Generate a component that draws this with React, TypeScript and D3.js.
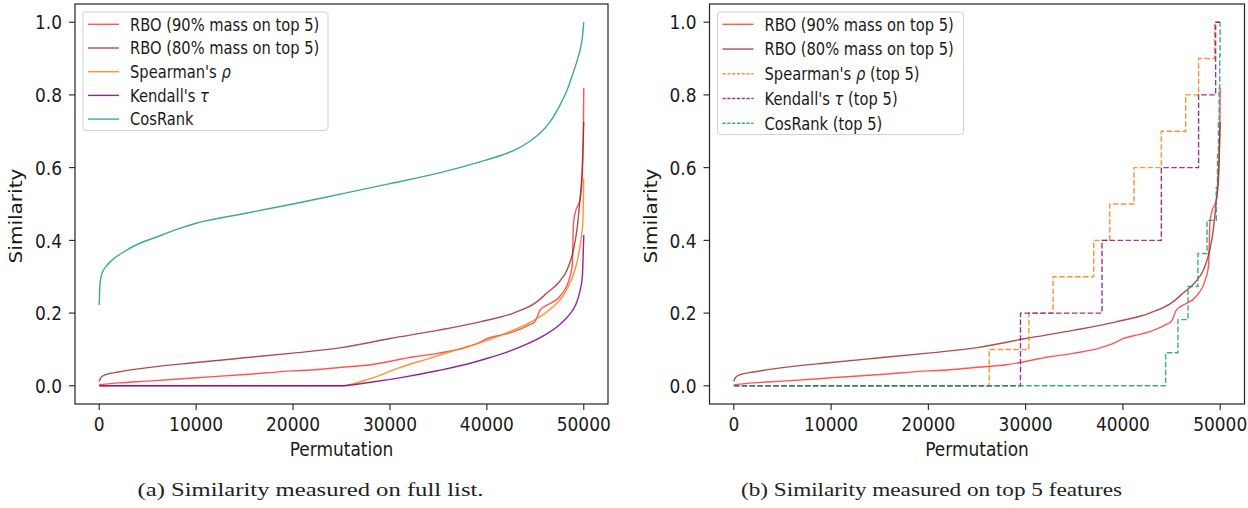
import React, { useRef, useEffect } from "react";
import * as d3 from "d3";

// tick labels
const xTicks = [0, 10000, 20000, 30000, 40000, 50000];
const yTicks = [0, 0.2, 0.4, 0.6, 0.8, 1.0];

// [permutation index, similarity]
const rbo90: [number, number][] = [
  [0, 0.003], [2000, 0.008], [5000, 0.013], [10000, 0.022], [15000, 0.031],
  [20000, 0.041], [22200, 0.044], [25000, 0.051], [28000, 0.058], [32500, 0.08],
  [35000, 0.09], [37500, 0.103], [39300, 0.12], [40000, 0.13], [41000, 0.137],
  [42750, 0.149], [44400, 0.168], [45000, 0.178], [45500, 0.209], [46200, 0.222],
  [47500, 0.245], [48500, 0.294], [48800, 0.33], [48950, 0.45], [49150, 0.48],
  [49600, 0.51], [49800, 0.56], [49950, 0.68], [50000, 0.82],
];

const rbo80: [number, number][] = [
  [0, 0.012], [150, 0.022], [600, 0.03], [2000, 0.038], [5000, 0.05],
  [10000, 0.064], [15000, 0.077], [20000, 0.09], [25000, 0.105], [30000, 0.13],
  [35000, 0.153], [39300, 0.176], [42750, 0.2], [45000, 0.228], [46200, 0.255],
  [47500, 0.287], [48300, 0.32], [48900, 0.37], [49300, 0.43], [49600, 0.51],
  [49850, 0.6], [50000, 0.726],
];

const spearman: [number, number][] = [
  [0, 0], [24900, 0], [28000, 0.02], [31000, 0.05], [34000, 0.075],
  [37000, 0.1], [39500, 0.12], [42000, 0.145], [44500, 0.175], [46500, 0.21],
  [47800, 0.245], [48700, 0.29], [49300, 0.34], [49700, 0.4], [49900, 0.45],
  [50000, 0.57],
];

const kendall: [number, number][] = [
  [0, 0], [24900, 0], [28000, 0.01], [31000, 0.022], [35000, 0.042],
  [38000, 0.06], [40000, 0.075], [42000, 0.092], [44000, 0.113], [46000, 0.14],
  [47500, 0.168], [48500, 0.195], [49200, 0.225], [49600, 0.26], [49850, 0.3],
  [50000, 0.415],
];

const cosRank: [number, number][] = [
  [0, 0.222], [40, 0.26], [120, 0.29], [300, 0.31], [700, 0.328], [1300, 0.345],
  [2500, 0.368], [4000, 0.39], [6000, 0.41], [8000, 0.43], [10000, 0.447],
  [15000, 0.474], [20000, 0.5], [25000, 0.528], [30000, 0.556], [35000, 0.585],
  [39300, 0.616], [41500, 0.634], [43000, 0.65], [44400, 0.672], [45500, 0.695],
  [46500, 0.725], [47500, 0.77], [48300, 0.815], [48870, 0.858], [49300, 0.893],
  [49600, 0.922], [49850, 0.958], [50000, 1.0],
];

// top 5 variants: step values, each point starts a new level
const spearmanTop5: [number, number][] = [
  [0, 0], [26250, 0.1], [30330, 0.2], [32820, 0.3], [37000, 0.4], [38650, 0.5],
  [41140, 0.6], [43950, 0.7], [46450, 0.8], [47780, 0.9], [49420, 1.0], [50000, 1.0],
];

const kendallTop5: [number, number][] = [
  [0, 0], [29470, 0.2], [37850, 0.4], [43950, 0.6], [47780, 0.8], [49530, 1.0],
  [50000, 1.0],
];

const cosRankTop5: [number, number][] = [
  [0, 0], [44390, 0.091], [45660, 0.182], [46690, 0.273], [47710, 0.364],
  [48650, 0.455], [49600, 0.545], [49720, 0.636], [49820, 0.727], [49890, 0.818],
  [49950, 0.909], [49990, 1.0], [50000, 1.0],
];

const COLORS = {
  rbo90: "#ff2a2a",
  rbo80: "#9e2020",
  spearman: "#ff7f0e",
  kendall: "#800080",
  cos: "#1b9e77",
};

const FONT = '"DejaVu Sans", sans-serif';
const TEXT_COLOR = "#1a1a1a";
const STRETCH = 1.18; // figure text looks vertically stretched

type Series = {
  data: [number, number][];
  color: string;
  opacity: number;
  dashed?: boolean;
  step?: boolean;
  name: string;
  sym?: string;
  suffix?: string;
};

const leftSeries: Series[] = [
  { data: rbo90, color: COLORS.rbo90, opacity: 0.8, name: "RBO (90% mass on top 5)" },
  { data: rbo80, color: COLORS.rbo80, opacity: 0.8, name: "RBO (80% mass on top 5)" },
  { data: spearman, color: COLORS.spearman, opacity: 0.85, name: "Spearman's ", sym: "ρ" },
  { data: kendall, color: COLORS.kendall, opacity: 0.85, name: "Kendall's ", sym: "τ" },
  { data: cosRank, color: COLORS.cos, opacity: 0.85, name: "CosRank" },
];

const rightSeries: Series[] = [
  { data: rbo90, color: COLORS.rbo90, opacity: 0.8, name: "RBO (90% mass on top 5)" },
  { data: rbo80, color: COLORS.rbo80, opacity: 0.8, name: "RBO (80% mass on top 5)" },
  { data: spearmanTop5, color: COLORS.spearman, opacity: 0.85, dashed: true, step: true, name: "Spearman's ", sym: "ρ", suffix: " (top 5)" },
  { data: kendallTop5, color: COLORS.kendall, opacity: 0.8, dashed: true, step: true, name: "Kendall's ", sym: "τ", suffix: " (top 5)" },
  { data: cosRankTop5, color: COLORS.cos, opacity: 0.85, dashed: true, step: true, name: "CosRank", suffix: " (top 5)" },
];

const drawPanel = (
  root: d3.Selection<SVGSVGElement, unknown, null, undefined>,
  opts: {
    left: number;
    right: number;
    series: Series[];
    legendWidth: number;
    legendRow: number;
    caption: string;
    captionX: number;
    captionW: number;
  }
) => {
  const top = 4;
  const bottom = 404;

  const x = d3.scaleLinear().domain([-2500, 52500]).range([opts.left, opts.right]);
  const y = d3.scaleLinear().domain([-0.05, 1.05]).range([bottom, top]);

  const g = root.append("g");

  // lines
  opts.series.forEach((s) => {
    const line = d3
      .line<[number, number]>()
      .x((d) => x(d[0]))
      .y((d) => y(d[1]))
      .curve(s.step ? d3.curveStepAfter : d3.curveMonotoneX);
    g.append("path")
      .attr("d", line(s.data))
      .attr("fill", "none")
      .attr("stroke", s.color)
      .attr("stroke-opacity", s.opacity)
      .attr("stroke-width", 1.4)
      .attr("stroke-dasharray", s.dashed ? "5.5,2.4" : null);
  });

  // spines
  g.append("rect")
    .attr("x", opts.left)
    .attr("y", top)
    .attr("width", opts.right - opts.left)
    .attr("height", bottom - top)
    .attr("fill", "none")
    .attr("stroke", "#222")
    .attr("stroke-width", 1.2);

  // y ticks
  yTicks.forEach((t) => {
    g.append("line")
      .attr("x1", opts.left - 6)
      .attr("x2", opts.left)
      .attr("y1", y(t))
      .attr("y2", y(t))
      .attr("stroke", "#222")
      .attr("stroke-width", 1.1);
    g.append("g")
      .attr("transform", `translate(${opts.left - 13},${y(t)}) scale(1,${STRETCH})`)
      .append("text")
      .attr("text-anchor", "end")
      .attr("dy", "0.36em")
      .attr("font-family", FONT)
      .attr("font-size", 17)
      .attr("fill", TEXT_COLOR)
      .text(t.toFixed(1));
  });

  // x ticks
  xTicks.forEach((t) => {
    g.append("line")
      .attr("x1", x(t))
      .attr("x2", x(t))
      .attr("y1", bottom)
      .attr("y2", bottom + 6)
      .attr("stroke", "#222")
      .attr("stroke-width", 1.1);
    g.append("g")
      .attr("transform", `translate(${x(t)},431) scale(1,${STRETCH})`)
      .append("text")
      .attr("text-anchor", "middle")
      .attr("font-family", FONT)
      .attr("font-size", 17)
      .attr("fill", TEXT_COLOR)
      .text(String(t));
  });

  // axis labels
  g.append("g")
    .attr("transform", `translate(${(opts.left + opts.right) / 2},456) scale(1,${STRETCH})`)
    .append("text")
    .attr("text-anchor", "middle")
    .attr("font-family", FONT)
    .attr("font-size", 17)
    .attr("fill", TEXT_COLOR)
    .text("Permutation");

  g.append("g")
    .attr("transform", `translate(${opts.left - 53},216) scale(1,${STRETCH}) rotate(-90)`)
    .append("text")
    .attr("text-anchor", "middle")
    .attr("font-family", FONT)
    .attr("font-size", 17)
    .attr("fill", TEXT_COLOR)
    .text("Similarity");

  // legend
  const lx = opts.left + 8;
  const ly = 12;
  const n = opts.series.length;
  const lh = 12.3 * 2 + (n - 1) * opts.legendRow - 1;
  g.append("rect")
    .attr("x", lx)
    .attr("y", ly)
    .attr("width", opts.legendWidth)
    .attr("height", lh)
    .attr("rx", 3)
    .attr("fill", "#fff")
    .attr("fill-opacity", 0.8)
    .attr("stroke", "#d0d0d0")
    .attr("stroke-width", 1);

  opts.series.forEach((s, i) => {
    const cy = ly + 12.3 + i * opts.legendRow;
    g.append("line")
      .attr("x1", lx + 5)
      .attr("x2", lx + 36)
      .attr("y1", cy)
      .attr("y2", cy)
      .attr("stroke", s.color)
      .attr("stroke-opacity", s.opacity)
      .attr("stroke-width", 1.4)
      .attr("stroke-dasharray", s.dashed ? "3.2,1.6" : null);
    const txt = g
      .append("g")
      .attr("transform", `translate(${lx + 47},${cy}) scale(1,${STRETCH})`)
      .append("text")
      .attr("dy", "0.36em")
      .attr("font-family", FONT)
      .attr("font-size", 14.7)
      .attr("fill", TEXT_COLOR);
    txt.append("tspan").text(s.name);
    if (s.sym) txt.append("tspan").attr("font-style", "italic").text(s.sym);
    if (s.suffix) txt.append("tspan").text(s.suffix);
  });

  // caption
  root
    .append("text")
    .attr("x", opts.captionX)
    .attr("y", 496)
    .attr("font-family", '"Liberation Serif", serif')
    .attr("font-size", 19)
    .attr("textLength", opts.captionW)
    .attr("lengthAdjust", "spacingAndGlyphs")
    .attr("fill", "#222")
    .text(opts.caption);
};

const App = () => {
  const ref = useRef<SVGSVGElement>(null);

  useEffect(() => {
    const svg = d3.select(ref.current as SVGSVGElement);
    svg.selectAll("*").remove();

    drawPanel(svg, {
      left: 75,
      right: 608,
      series: leftSeries,
      legendWidth: 245,
      legendRow: 23.7,
      caption: "(a) Similarity measured on full list.",
      captionX: 137.5,
      captionW: 346,
    });

    drawPanel(svg, {
      left: 709.5,
      right: 1244.5,
      series: rightSeries,
      legendWidth: 246,
      legendRow: 24.75,
      caption: "(b) Similarity measured on top 5 features",
      captionX: 741,
      captionW: 381,
    });

    return () => {
      svg.selectAll("*").remove();
    };
  }, []);

  return (
    <svg
      ref={ref}
      width={1248}
      height={508}
      style={{ position: "absolute", left: 0, top: 0, background: "#fff" }}
    />
  );
};

export default App;
